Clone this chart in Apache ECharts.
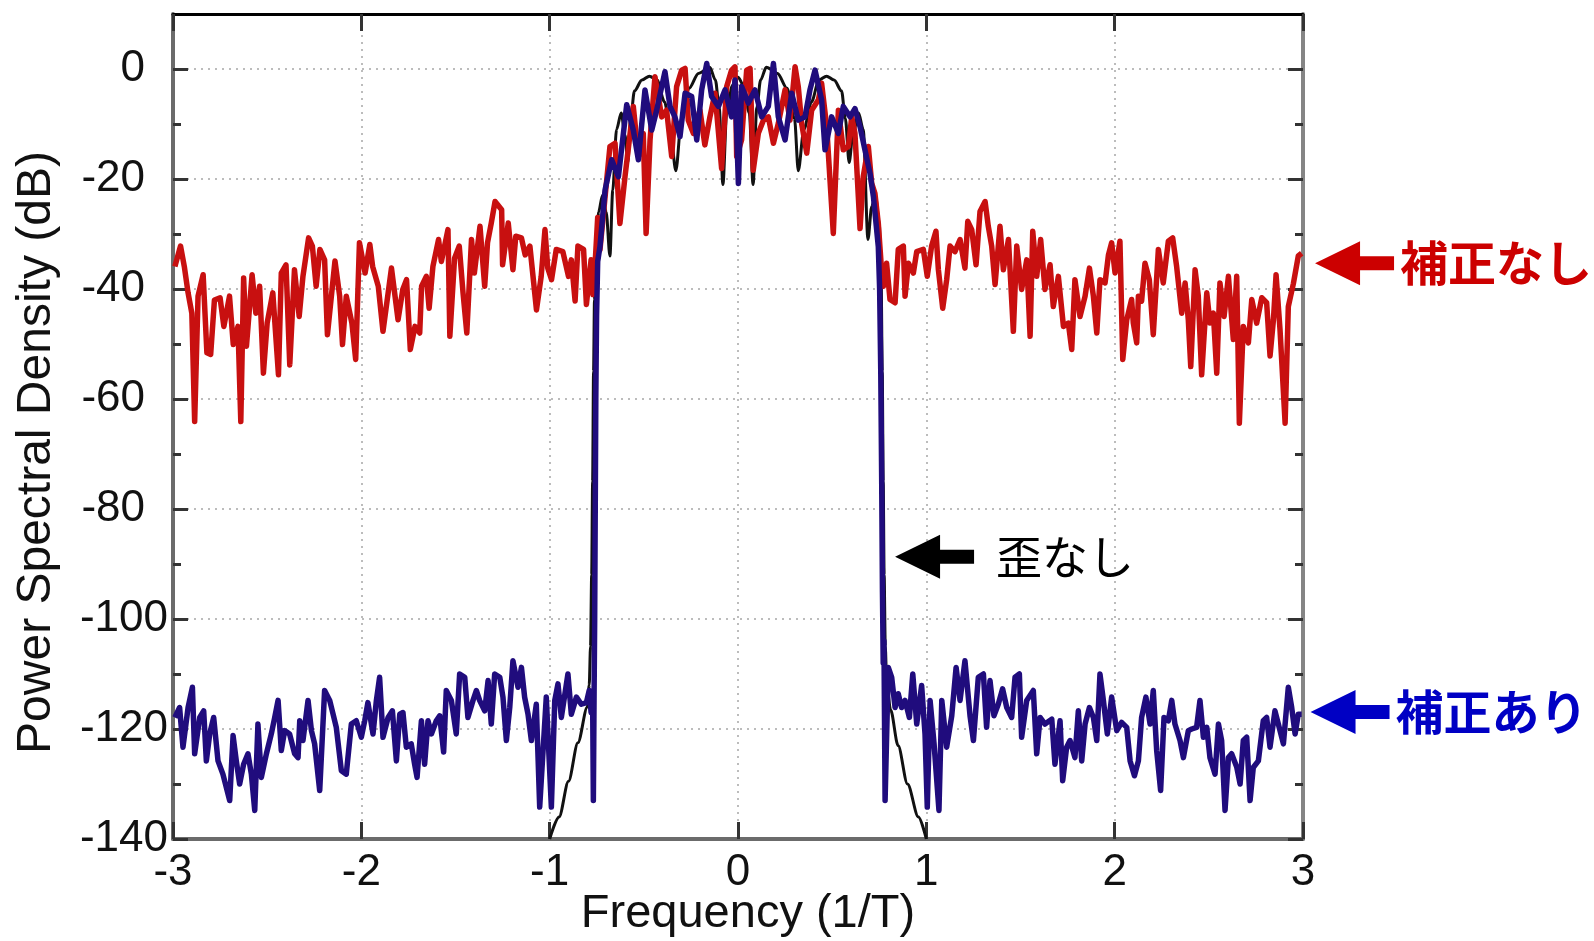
<!DOCTYPE html>
<html>
<head>
<meta charset="utf-8">
<title>Power Spectral Density</title>
<script src="https://cdn.jsdelivr.net/npm/echarts@6/dist/echarts.min.js"></script>
<style>
  html, body { margin: 0; padding: 0; background: #fff; }
  #main { width: 1594px; height: 941px; }
</style>
</head>
<body>
<div id="main"></div>
<script>
// values: [frequency (1/T), PSD (dB)]

// 補正なし (red) - left noise floor, passband, right noise floor
var redLeft = [[-2.99,-35.9],[-2.96,-32.2],[-2.94,-35.9],[-2.92,-40.7],[-2.90,-44.4],[-2.885,-64.1],[-2.867,-41.3],[-2.84,-37.4],[-2.82,-51.6],[-2.80,-51.9],[-2.78,-42],[-2.75,-41.6],[-2.73,-46.8],[-2.70,-41.3],[-2.68,-50.1],[-2.655,-46.8],[-2.64,-64.1],[-2.625,-38],[-2.61,-50.4],[-2.58,-37.4],[-2.56,-44.4],[-2.54,-39.5],[-2.52,-55.3],[-2.50,-46.2],[-2.47,-40.7],[-2.44,-55.6],[-2.425,-37.1],[-2.40,-35.6],[-2.38,-53.8],[-2.355,-36.5],[-2.33,-45],[-2.31,-37.7],[-2.28,-30.7],[-2.26,-32.2],[-2.24,-39.5],[-2.22,-32.8],[-2.195,-34.7],[-2.18,-48.3],[-2.14,-34.9],[-2.115,-41.3],[-2.10,-50.1],[-2.08,-41.3],[-2.05,-46.2],[-2.03,-52.8],[-2.01,-31.6],[-1.98,-37.1],[-1.955,-31.9],[-1.94,-35.9],[-1.91,-39.5],[-1.885,-47.7],[-1.84,-36.2],[-1.805,-45.6],[-1.78,-40.1],[-1.76,-38.3],[-1.74,-51],[-1.715,-46.8],[-1.69,-48],[-1.68,-39.5],[-1.655,-37.7],[-1.64,-43.5],[-1.62,-35.9],[-1.59,-31],[-1.575,-35],[-1.54,-29.2],[-1.53,-48.6],[-1.505,-34.4],[-1.48,-32.2],[-1.46,-40.7],[-1.44,-48],[-1.415,-31],[-1.40,-37.1],[-1.37,-28.6],[-1.345,-39.5],[-1.33,-31.6],[-1.31,-28],[-1.29,-24.1],[-1.255,-25.6],[-1.25,-35.6],[-1.22,-28],[-1.195,-36.5],[-1.18,-30.4],[-1.15,-30.7],[-1.13,-33.8],[-1.105,-32.2],[-1.07,-43.8],[-1.045,-37.7],[-1.025,-29.2],[-1.01,-36.2],[-0.99,-38.3],[-0.965,-32.8],[-0.93,-33.2],[-0.90,-37.7],[-0.885,-34.7],[-0.865,-42.2],[-0.85,-32.2],[-0.82,-32.8],[-0.805,-42.8],[-0.78,-34.7],[-0.77,-41],[-0.758,-35],[-0.745,-27]];
var redBand = [[-0.733,-32.9],[-0.68,-14.1],[-0.653,-13.5],[-0.627,-28.1],[-0.60,-19.6],[-0.556,-6.8],[-0.529,-15.9],[-0.503,-11.7],[-0.488,-29.9],[-0.467,-12.9],[-0.441,-1.4],[-0.405,-8.7],[-0.379,-7.5],[-0.352,-15.9],[-0.326,-3.2],[-0.299,-0.2],[-0.281,0.1],[-0.264,-9.3],[-0.237,-11.7],[-0.202,-7.5],[-0.176,-13.8],[-0.149,-8.7],[-0.122,-4.4],[-0.087,-18.1],[-0.060,-3.2],[-0.034,-0.2],[-0.016,0.4],[-0.007,-15.9],[0.019,-12.9],[0.046,-0.2],[0.064,0.1],[0.081,-18.4],[0.108,-11.7],[0.135,-9.3],[0.161,-8.7],[0.188,-13.5],[0.214,-9.9],[0.250,-3.8],[0.276,-9.3],[0.303,0.4],[0.320,-3.2],[0.338,-9.9],[0.365,-15.3],[0.391,-7.5],[0.427,-5.6],[0.444,-2.6],[0.471,-10.5],[0.506,-29.9],[0.533,-7.5],[0.559,-14.7],[0.586,-14.1],[0.604,-8.7],[0.621,-11.7],[0.648,-29],[0.665,-19.6],[0.692,-14.1],[0.710,-20.8],[0.727,-22.6],[0.745,-28.1],[0.755,-33],[0.765,-38]];
var redRight = [[0.772,-39.5],[0.789,-35.3],[0.807,-41.9],[0.834,-42.5],[0.851,-32.8],[0.878,-32.2],[0.887,-41.3],[0.905,-35.3],[0.931,-37.1],[0.949,-33.2],[0.984,-32.8],[1.005,-37.7],[1.028,-32.2],[1.051,-29.5],[1.064,-36.5],[1.087,-43.5],[1.108,-38.3],[1.126,-32.2],[1.152,-33.2],[1.179,-31],[1.205,-36.2],[1.220,-27.7],[1.241,-29.2],[1.264,-35.6],[1.285,-25.9],[1.312,-24.1],[1.329,-28.6],[1.347,-32.2],[1.365,-39.2],[1.391,-28.6],[1.409,-36.5],[1.436,-31],[1.462,-47.7],[1.480,-32.2],[1.506,-40.1],[1.533,-34.7],[1.551,-48.6],[1.565,-29.5],[1.586,-37.7],[1.607,-31],[1.630,-40.1],[1.657,-35.6],[1.674,-43.2],[1.701,-37.7],[1.728,-46.8],[1.754,-46.2],[1.772,-51],[1.789,-38.3],[1.816,-45],[1.843,-41.3],[1.866,-36.2],[1.887,-41.3],[1.905,-48],[1.922,-38.3],[1.949,-38.9],[1.967,-33.8],[1.984,-31.6],[2.002,-37.1],[2.028,-31.3],[2.043,-52.8],[2.064,-45.6],[2.090,-41.9],[2.099,-46.2],[2.117,-49.8],[2.126,-41.3],[2.143,-42.2],[2.161,-35.3],[2.184,-38.3],[2.205,-48.3],[2.232,-32.8],[2.258,-38.9],[2.285,-31.3],[2.308,-30.7],[2.329,-35.9],[2.356,-44.4],[2.374,-38.9],[2.391,-45.6],[2.404,-54.1],[2.427,-36.5],[2.444,-41.3],[2.462,-55.6],[2.489,-40.7],[2.506,-46.2],[2.524,-44.4],[2.542,-55.3],[2.559,-38.9],[2.581,-45],[2.604,-37.7],[2.630,-49.2],[2.648,-37.7],[2.662,-64.4],[2.683,-46.8],[2.710,-49.8],[2.728,-41.9],[2.754,-46.2],[2.781,-41.6],[2.807,-42.5],[2.825,-52.2],[2.843,-45.6],[2.857,-37.4],[2.878,-47.4],[2.905,-64.4],[2.922,-43.2],[2.949,-39],[2.975,-34],[2.993,-33.5]];

// 補正あり (navy)
var blueLeft = [[-2.99,-117.9],[-2.965,-116.1],[-2.947,-123.3],[-2.92,-116.1],[-2.897,-112.4],[-2.885,-124.5],[-2.858,-117.9],[-2.837,-116.7],[-2.823,-125.8],[-2.805,-120.9],[-2.784,-117.9],[-2.761,-125.8],[-2.735,-128.2],[-2.699,-133],[-2.681,-121.2],[-2.664,-125.8],[-2.646,-130],[-2.625,-126.4],[-2.602,-124.5],[-2.584,-128.2],[-2.566,-134.8],[-2.549,-119.1],[-2.531,-128.8],[-2.504,-124.5],[-2.478,-120.9],[-2.46,-117.9],[-2.442,-114.8],[-2.425,-123.9],[-2.407,-120.3],[-2.381,-120.9],[-2.354,-124.5],[-2.336,-125.2],[-2.327,-118.5],[-2.31,-122.1],[-2.283,-114.8],[-2.265,-120.3],[-2.248,-122.7],[-2.221,-131.2],[-2.195,-113],[-2.168,-114.8],[-2.15,-117.3],[-2.133,-119.7],[-2.106,-127.6],[-2.08,-128.2],[-2.053,-119.1],[-2.027,-118.5],[-2.0,-121.5],[-1.982,-118.5],[-1.965,-115.2],[-1.938,-120.9],[-1.92,-114.8],[-1.903,-110.6],[-1.885,-121.5],[-1.858,-117.9],[-1.835,-116.7],[-1.814,-125.8],[-1.796,-117.3],[-1.779,-117],[-1.761,-123.3],[-1.735,-122.7],[-1.717,-126.4],[-1.704,-128.8],[-1.681,-118.5],[-1.664,-126.4],[-1.646,-118.5],[-1.628,-120.9],[-1.602,-118.5],[-1.584,-117.6],[-1.563,-124.2],[-1.549,-113],[-1.522,-114.8],[-1.496,-120.9],[-1.478,-110],[-1.451,-110.6],[-1.434,-117.9],[-1.407,-114.8],[-1.389,-113],[-1.372,-114.8],[-1.345,-116.7],[-1.327,-111.2],[-1.31,-119.1],[-1.292,-110],[-1.265,-110.6],[-1.248,-114.2],[-1.23,-122.1],[-1.212,-116.1],[-1.195,-107.6],[-1.168,-112.4],[-1.15,-108.8],[-1.133,-114.2],[-1.115,-117.3],[-1.097,-122.1],[-1.071,-115.5],[-1.053,-134.2],[-1.035,-123.9],[-1.018,-114.2],[-0.991,-134.2],[-0.973,-114.8],[-0.956,-111.8],[-0.938,-117.9],[-0.903,-110],[-0.885,-117.3],[-0.858,-114.2],[-0.832,-115.5],[-0.805,-115.2],[-0.79,-113],[-0.78,-117],[-0.772,-114],[-0.768,-133],[-0.764,-113],[-0.761,-100],[-0.758,-80],[-0.755,-60],[-0.751,-45],[-0.745,-35]];
var blueBand = [[-0.733,-32.3],[-0.706,-22],[-0.671,-16.5],[-0.635,-19.6],[-0.591,-6.5],[-0.556,-11.1],[-0.529,-16.5],[-0.494,-3.8],[-0.458,-11.1],[-0.432,-7.5],[-0.388,-0.5],[-0.361,-6.8],[-0.335,-8.7],[-0.308,-12.3],[-0.281,-4.4],[-0.246,-5],[-0.219,-12.9],[-0.193,-3.8],[-0.166,1],[-0.140,-5],[-0.104,-6.8],[-0.069,-3.8],[-0.034,-8.7],[-0.016,-2],[0.002,-20.8],[0.019,-3.2],[0.055,-6.2],[0.090,-3.8],[0.126,-8.7],[0.161,-6.8],[0.188,1],[0.214,-8.7],[0.250,-12.9],[0.285,-4.4],[0.320,-9.3],[0.356,-8.7],[0.382,-3.8],[0.409,-0.2],[0.444,-5.6],[0.462,-14.7],[0.497,-8.7],[0.533,-11.7],[0.559,-6.8],[0.595,-8.7],[0.621,-7.2],[0.648,-10.5],[0.674,-14.7],[0.701,-19],[0.719,-23.2],[0.745,-32.3],[0.752,-40],[0.758,-55],[0.763,-75],[0.767,-95],[0.771,-108],[0.775,-104]];
var blueRight = [[0.781,-133],[0.798,-108.8],[0.816,-110.6],[0.834,-116.1],[0.851,-113.6],[0.869,-116.1],[0.887,-114.8],[0.91,-117.9],[0.928,-110],[0.949,-119.1],[0.975,-112.1],[0.993,-120.9],[1.005,-134.2],[1.02,-114.8],[1.041,-122.7],[1.067,-134.8],[1.082,-114.8],[1.108,-123.3],[1.135,-117.6],[1.158,-108.8],[1.179,-114.8],[1.205,-107.6],[1.232,-117.6],[1.25,-122.1],[1.276,-110.6],[1.303,-110],[1.32,-119.7],[1.338,-111.2],[1.359,-117.6],[1.382,-115.5],[1.405,-112.7],[1.427,-116.1],[1.453,-117.9],[1.471,-110.6],[1.494,-110],[1.506,-121.5],[1.533,-114.8],[1.568,-113],[1.586,-124.5],[1.604,-117.9],[1.63,-119.1],[1.666,-118.2],[1.683,-126.4],[1.71,-118.5],[1.724,-129.4],[1.745,-123.3],[1.763,-122.1],[1.789,-125.2],[1.807,-116.7],[1.825,-125.8],[1.843,-119.1],[1.866,-116.1],[1.887,-117.9],[1.905,-122.1],[1.922,-110],[1.94,-114.8],[1.961,-120.9],[1.984,-114.2],[2.011,-120.3],[2.037,-118.8],[2.064,-119.7],[2.082,-125.8],[2.105,-128.5],[2.126,-125.8],[2.143,-117.9],[2.166,-114.2],[2.188,-119.1],[2.205,-113],[2.223,-123.9],[2.244,-131.2],[2.262,-117.9],[2.285,-118.5],[2.303,-114.8],[2.32,-119.1],[2.347,-122.1],[2.365,-125.2],[2.391,-120.3],[2.409,-120],[2.435,-119.7],[2.453,-114.8],[2.471,-121.5],[2.489,-119.7],[2.506,-125.2],[2.533,-128.2],[2.551,-119.1],[2.568,-122.1],[2.586,-134.8],[2.604,-125.2],[2.621,-124.5],[2.648,-126.9],[2.666,-130],[2.683,-122.1],[2.701,-121.5],[2.719,-133],[2.736,-127],[2.763,-125.8],[2.789,-118.5],[2.807,-117.9],[2.825,-123.3],[2.851,-116.7],[2.869,-119.1],[2.896,-122.7],[2.922,-112.4],[2.94,-116.1],[2.958,-120.9],[2.975,-117.3],[2.993,-117.3]];

// 歪なし (black, ideal spectrum)
var ideal = [[-1.0,-140],[-0.95,-136],[-0.9,-129.5],[-0.85,-122.5],[-0.80,-116],[-0.79,-112],[-0.783,-105],[-0.777,-92],[-0.772,-75],[-0.767,-55],[-0.762,-42],[-0.755,-33],[-0.74,-26],[-0.72,-23],[-0.70,-26],[-0.68,-34],[-0.665,-22],[-0.645,-11],[-0.62,-8],[-0.60,-12],[-0.585,-17],[-0.57,-9],[-0.55,-4],[-0.51,-2],[-0.47,-1.3],[-0.43,-2],[-0.39,-6],[-0.36,-11],[-0.33,-18.5],[-0.30,-9],[-0.26,-3.5],[-0.21,-0.8],[-0.15,0.3],[-0.12,-2],[-0.10,-7],[-0.08,-21],[-0.06,-8],[-0.03,-3],[0,-1.5],[0.03,-3],[0.06,-8],[0.08,-21],[0.10,-7],[0.12,-2],[0.15,0.3],[0.21,-0.8],[0.26,-3.5],[0.30,-9],[0.32,-18.5],[0.35,-11],[0.39,-6],[0.43,-2],[0.47,-1.3],[0.51,-2],[0.55,-4],[0.57,-9],[0.59,-17],[0.61,-12],[0.64,-8],[0.665,-11],[0.69,-31],[0.71,-25],[0.73,-23],[0.75,-28],[0.76,-38],[0.766,-55],[0.771,-75],[0.776,-92],[0.782,-105],[0.79,-112],[0.81,-116.5],[0.85,-123],[0.90,-130],[0.958,-136],[1.0,-140]];

var yMajorTicks = [-140, -120, -100, -80, -60, -40, -20, 0];
var yMinorTicks = [-130, -110, -90, -70, -50, -30, -10];

// annotation arrows: tip position in data units
var notes = [
    { text: '補正なし', tip: [3.064, -35.3], color: '#cc0000', size: 48, weight: 'bold', gap: 85 },
    { text: '補正あり', tip: [3.04, -116.9], color: '#0000c4', size: 48, weight: 'bold', gap: 85 },
    { text: '歪なし', tip: [0.834, -88.7], color: '#000000', size: 46, weight: 'normal', gap: 101 }
];

var latin = '"Liberation Sans", Arial, sans-serif';
var cjk = '"Noto Sans CJK JP", sans-serif';
var gridStyle = { color: '#bcbcbc', type: [2, 5], width: 2 };

function sideAxis(pos, ticks, len, color, show) {
    return {
        type: 'value', min: -140, max: 10, position: pos,
        axisLine: { show: show, onZero: false, lineStyle: { color: color, width: 4 } },
        axisTick: { inside: true, length: len, customValues: ticks, lineStyle: { color: '#333', width: 3 } },
        axisLabel: { show: false },
        splitLine: { show: false }
    };
}

var chart = echarts.init(document.getElementById('main'));

var option = {
    animation: false,
    backgroundColor: '#fff',
    grid: { left: 173, right: 291, top: 14, bottom: 102, containLabel: false, outerBoundsMode: 'none' },
    xAxis: [
        {
            type: 'value', min: -3, max: 3, interval: 1, position: 'bottom',
            name: 'Frequency (1/T)', nameLocation: 'middle', nameGap: 52, nameMoveOverlap: false,
            nameTextStyle: { fontSize: 47, color: '#111', fontFamily: latin, padding: [0, 0, 0, 20] },
            axisLine: { onZero: false, lineStyle: { color: '#6b6b6b', width: 4 } },
            axisTick: { inside: true, length: 17, lineStyle: { color: '#333', width: 3 } },
            axisLabel: { margin: 12, fontSize: 44, color: '#111', fontFamily: latin },
            splitLine: { show: true, lineStyle: gridStyle }
        },
        {
            type: 'value', min: -3, max: 3, interval: 1, position: 'top',
            axisLine: { onZero: false, lineStyle: { color: '#000', width: 3 } },
            axisTick: { inside: true, length: 17, lineStyle: { color: '#333', width: 3 } },
            axisLabel: { show: false },
            splitLine: { show: false }
        }
    ],
    yAxis: [
        {
            type: 'value', min: -140, max: 10, interval: 20, position: 'left',
            name: 'Power Spectral Density (dB)', nameLocation: 'middle', nameGap: 112, nameMoveOverlap: false,
            nameTextStyle: { fontSize: 48, color: '#111', fontFamily: latin, padding: [0, 52, 0, 0] },
            axisLine: { onZero: false, lineStyle: { color: '#6b6b6b', width: 4 } },
            axisTick: { inside: true, length: 15, customValues: yMajorTicks, lineStyle: { color: '#333', width: 3 } },
            axisLabel: {
                customValues: yMajorTicks, margin: 5, fontSize: 44, color: '#111', fontFamily: latin,
                formatter: function (v) {
                    var s = String(v);
                    return s.length < 4 ? '{s|' + s + '}' : s;
                },
                rich: { s: { fontSize: 44, color: '#111', fontFamily: latin, padding: [0, 23, 0, 0] } }
            },
            splitLine: { show: true, lineStyle: gridStyle }
        },
        sideAxis('left', yMinorTicks, 8, '#6b6b6b', false),
        sideAxis('right', yMajorTicks, 15, '#858585', true),
        sideAxis('right', yMinorTicks, 8, '#858585', false)
    ],
    series: [
        {
            name: '歪なし', type: 'line', data: ideal, showSymbol: false,
            smooth: 0.3, smoothMonotone: 'x',
            lineStyle: { color: '#111', width: 3 }, z: 2
        },
        {
            name: '補正なし', type: 'line', data: redLeft.concat(redBand, redRight), showSymbol: false,
            lineStyle: { color: '#c81010', width: 5.5, join: 'round' }, z: 3
        },
        {
            name: '補正あり', type: 'line', data: blueLeft.concat(blueBand, blueRight), showSymbol: false,
            lineStyle: { color: '#200c7d', width: 5.5, join: 'round' }, z: 4
        }
    ]
};
chart.setOption(option);

// arrows and labels, placed from data positions
var elements = [];
notes.forEach(function (n) {
    var p = chart.convertToPixel({ xAxisIndex: 0, yAxisIndex: 0 }, n.tip);
    elements.push({
        type: 'polygon', x: p[0], y: p[1], z: 100,
        shape: { points: [[0, 0], [45, -22], [45, -7], [79, -7], [79, 7], [45, 7], [45, 22]] },
        style: { fill: n.color }
    });
    elements.push({
        type: 'text', x: p[0] + n.gap, y: p[1], z: 100,
        style: {
            text: n.text, fill: n.color, fontSize: n.size, fontWeight: n.weight,
            fontFamily: cjk, verticalAlign: 'middle'
        }
    });
});
chart.setOption({ graphic: elements });
</script>
</body>
</html>
